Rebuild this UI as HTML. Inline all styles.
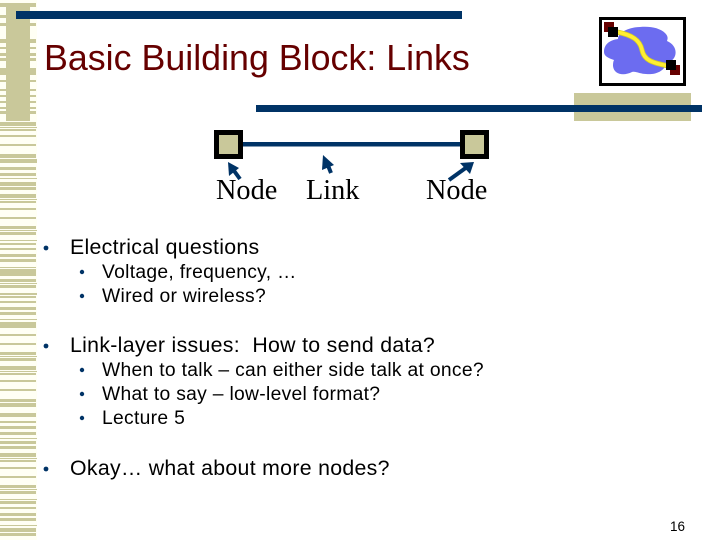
<!DOCTYPE html>
<html><head><meta charset="utf-8"><style>
html,body{margin:0;padding:0;background:#fff}
#p{position:relative;width:720px;height:540px;overflow:hidden;background:#fff;font-family:"Liberation Sans",sans-serif;color:#000}
.t{position:absolute;white-space:pre;line-height:1}
svg{position:absolute;left:0;top:0}
.s{fill:#c9c89a}
.a{font-size:21.300px;letter-spacing:.3px}
.b{font-size:19.300px;letter-spacing:.3px}
.n{font-family:"Liberation Serif",serif;font-size:28.300px}
</style></head><body><div id="p">
<svg width="720" height="540" viewBox="0 0 720 540">
<rect x="0" y="0" width="37" height="540" fill="#fffff4"/>
<g class="s">
<rect x="0" y="3" width="36" height="4"/><rect x="0" y="15" width="36" height="3"/><rect x="0" y="23" width="36" height="3"/><rect x="0" y="39" width="36" height="4"/><rect x="0" y="47" width="36" height="2"/><rect x="0" y="53" width="36" height="3"/><rect x="0" y="58" width="36" height="3"/><rect x="0" y="68" width="36" height="7"/><rect x="0" y="80" width="36" height="2"/><rect x="0" y="89" width="36" height="2"/><rect x="0" y="95" width="36" height="2"/><rect x="0" y="101" width="36" height="2"/><rect x="0" y="107" width="36" height="2"/><rect x="0" y="111" width="36" height="3"/>
<rect x="6" y="3" width="24" height="118"/>
<rect x="0" y="122" width="36" height="4"/><rect x="0" y="127" width="37" height="1"/><rect x="0" y="129" width="36" height="2"/><rect x="0" y="135" width="36" height="2"/><rect x="0" y="144" width="36" height="2"/><rect x="0" y="154" width="36" height="4"/><rect x="0" y="159" width="37" height="4"/><rect x="0" y="167" width="36" height="3"/><rect x="0" y="173" width="36" height="3"/><rect x="0" y="178" width="37" height="1"/><rect x="0" y="182" width="36" height="4"/><rect x="0" y="187" width="36" height="3"/><rect x="0" y="194" width="36" height="4"/><rect x="0" y="199" width="37" height="1"/><rect x="0" y="201" width="36" height="2"/><rect x="0" y="208" width="36" height="2"/><rect x="0" y="217" width="36" height="2"/><rect x="0" y="226" width="36" height="3"/><rect x="0" y="230" width="37" height="1"/><rect x="0" y="232" width="36" height="3"/><rect x="0" y="240" width="37" height="1"/><rect x="0" y="243" width="36" height="2"/>
<rect x="0" y="248" width="36" height="2"/><rect x="0" y="254" width="36" height="3"/><rect x="0" y="259" width="36" height="3"/><rect x="0" y="267" width="36" height="1"/><rect x="0" y="269" width="36" height="7"/><rect x="0" y="279" width="36" height="3"/><rect x="0" y="283" width="37" height="1"/><rect x="0" y="285" width="36" height="3"/><rect x="0" y="293" width="37" height="2"/><rect x="0" y="296" width="36" height="2"/><rect x="0" y="301" width="36" height="2"/><rect x="0" y="307" width="36" height="3"/><rect x="0" y="312" width="36" height="3"/><rect x="0" y="319" width="37" height="1"/><rect x="0" y="322" width="36" height="6"/><rect x="0" y="334" width="36" height="2"/><rect x="0" y="343" width="36" height="2"/><rect x="0" y="352" width="36" height="3"/><rect x="0" y="356" width="37" height="1"/><rect x="0" y="358" width="36" height="3"/><rect x="0" y="366" width="36" height="4"/><rect x="0" y="371" width="37" height="1"/><rect x="0" y="373" width="36" height="2"/>
<rect x="0" y="380" width="36" height="2"/><rect x="0" y="389" width="36" height="2"/><rect x="0" y="399" width="36" height="3"/><rect x="0" y="403" width="36" height="4"/><rect x="0" y="413" width="36" height="4"/><rect x="0" y="421" width="36" height="2"/><rect x="0" y="426" width="36" height="3"/><rect x="0" y="432" width="36" height="3"/><rect x="0" y="438" width="37" height="1"/><rect x="0" y="441" width="36" height="3"/><rect x="0" y="446" width="36" height="3"/><rect x="0" y="453" width="36" height="4"/><rect x="0" y="458" width="37" height="1"/><rect x="0" y="460" width="36" height="2"/><rect x="0" y="467" width="36" height="2"/><rect x="0" y="476" width="36" height="2"/><rect x="0" y="485" width="36" height="3"/><rect x="0" y="489" width="37" height="1"/><rect x="0" y="491" width="36" height="3"/><rect x="0" y="499" width="37" height="1"/><rect x="0" y="501" width="36" height="3"/><rect x="0" y="507" width="36" height="2"/><rect x="0" y="513" width="36" height="3"/><rect x="0" y="518" width="36" height="3"/><rect x="0" y="525" width="37" height="1"/><rect x="0" y="528" width="36" height="4"/><rect x="0" y="533" width="36" height="3"/>
</g>
<rect x="16" y="11" width="446" height="8" fill="#003366"/>
<rect x="574" y="93" width="117" height="28" class="s"/>
<rect x="256" y="105" width="446" height="7" fill="#003366"/>

<rect x="600.500" y="18.500" width="84" height="66" fill="#fff" stroke="#000" stroke-width="3"/>
<path d="M604 52C604 44 610 40 618 39C618 32 630 27 640 27C650 26 660 28 665 33C668 36 668 38 667 41C674 44 677 50 675 56C673 61 669 62 666 64C664 72 654 75 646 74C640 74 636 71 632 72C624 76 614 75 613 66C613 64 613 62 614 60C608 58 604 56 604 52Z" fill="#6c6cf0"/>
<path d="M617 32C632 35 640 40 642 50C644 60 652 63 669 66" fill="none" stroke="#d8d020" stroke-width="5"/>
<path d="M617 32C632 35 640 40 642 50C644 60 652 63 669 66" fill="none" stroke="#ffee33" stroke-width="3.500"/>
<rect x="604" y="22" width="10" height="10" fill="#660000"/>
<rect x="608" y="27" width="10" height="10" fill="#000"/>
<rect x="670" y="65" width="10" height="10" fill="#660000"/>
<rect x="666" y="60" width="10" height="10" fill="#000"/>

<rect x="240" y="142" width="222" height="4.500" fill="#003366"/>
<rect x="216.500" y="132.500" width="24" height="24" fill="#c9c89a" stroke="#000" stroke-width="5"/>
<rect x="462.500" y="132.500" width="24" height="24" fill="#c9c89a" stroke="#000" stroke-width="5"/>
<g stroke="#003366" stroke-width="4" fill="none">
<line x1="240" y1="179" x2="232" y2="168"/><line x1="331" y1="173" x2="327" y2="163"/><line x1="449" y1="180" x2="467" y2="167"/>
</g>
<g fill="#003366">
<path d="M228 162L239 168L229 176Z"/><path d="M323 155L334 165L322 170Z"/><path d="M474 162L470 174L460 163Z"/>
</g>
</svg>

<div class="t" style="left:44px;top:41px;font-size:35.800px;color:#660000">Basic Building Block: Links</div>

<div class="t n" style="left:216px;top:177px">Node</div>
<div class="t n" style="left:306px;top:177px">Link</div>
<div class="t n" style="left:426px;top:177px">Node</div>

<svg width="720" height="540" viewBox="0 0 720 540" fill="#003366">
<circle cx="46" cy="248" r="2.400"/><circle cx="46" cy="346" r="2.400"/><circle cx="46" cy="469" r="2.400"/>
<circle cx="82" cy="272" r="2.200"/><circle cx="82" cy="296" r="2.200"/><circle cx="82" cy="370" r="2.200"/><circle cx="82" cy="394" r="2.200"/><circle cx="82" cy="418" r="2.200"/>
</svg>

<div class="t a" style="left:70px;top:237px">Electrical questions</div>
<div class="t b" style="left:102px;top:263px">Voltage, frequency, …</div>
<div class="t b" style="left:102px;top:287px">Wired or wireless?</div>
<div class="t a" style="left:70px;top:335px">Link-layer issues:  How to send data?</div>
<div class="t b" style="left:102px;top:361px">When to talk – can either side talk at once?</div>
<div class="t b" style="left:102px;top:385px">What to say – low-level format?</div>
<div class="t b" style="left:102px;top:409px">Lecture 5</div>
<div class="t a" style="left:70px;top:458px">Okay… what about more nodes?</div>
<div class="t" style="left:670px;top:520px;font-size:13.500px">16</div>
</div></body></html>
